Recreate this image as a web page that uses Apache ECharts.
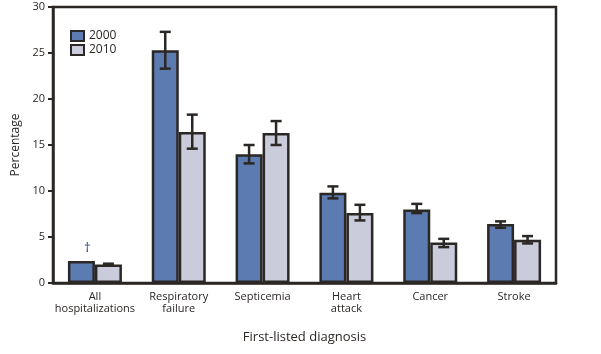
<!DOCTYPE html>
<html>
<head>
<meta charset="utf-8">
<script src="https://cdn.jsdelivr.net/npm/echarts@6/dist/echarts.min.js"></script>
<style>
  html, body { margin: 0; padding: 0; background: #fff; }
  #chart { width: 601px; height: 354px; }
</style>
</head>
<body>
<div id="chart"></div>
<script>
  // first-listed diagnosis, percentage of hospitalizations
  const categories = ['All\nhospitalizations', 'Respiratory\nfailure', 'Septicemia', 'Heart\nattack', 'Cancer', 'Stroke']
  const years = ['2000', '2010']
  const values2000 = [2.4, 25.3, 14.0, 9.8, 8.0, 6.4]
  const values2010 = [2.0, 16.4, 16.3, 7.6, 4.4, 4.7]
  // confidence intervals [low, high], null = none shown
  const ci2000 = [null, [23.3, 27.3], [13.0, 15.0], [9.2, 10.5], [7.6, 8.6], [6.0, 6.7]]
  const ci2010 = [[1.9, 2.1], [14.6, 18.3], [15.0, 17.6], [6.8, 8.5], [3.9, 4.8], [4.3, 5.1]]
  const yTicks = [0, 5, 10, 15, 20, 25, 30]

  const ink = '#2b2725'
  const font = '"Open Sans", "Noto Sans", sans-serif'
  const barW = 27

  const chart = echarts.init(document.getElementById('chart'))

  // error bar: shift = -1 for left bar, +1 for right bar
  function errorBar(shift) {
    return function(params, api) {
      const i = api.value(0)
      const lo = api.coord([i, api.value(1)])
      const hi = api.coord([i, api.value(2)])
      const x = lo[0] + shift * barW / 2
      const cap = 5.5
      const st = { stroke: ink, lineWidth: 2.5 }
      return {
        type: 'group',
        children: [
          { type: 'line', shape: { x1: x, y1: lo[1], x2: x, y2: hi[1] }, style: st },
          { type: 'line', shape: { x1: x - cap, y1: lo[1], x2: x + cap, y2: lo[1] }, style: st },
          { type: 'line', shape: { x1: x - cap, y1: hi[1], x2: x + cap, y2: hi[1] }, style: st }
        ]
      }
    }
  }
  function ciData(list) {
    return list.map((c, i) => c ? [i, c[0], c[1]] : null).filter(d => d)
  }

  chart.setOption({
    animation: false,
    textStyle: { fontFamily: font },
    grid: {
      left: 53, right: 45, top: 7, bottom: 71,
      show: true, borderColor: ink, borderWidth: 2.5
    },
    legend: {
      data: years,
      orient: 'vertical',
      left: 65, top: 25,
      itemWidth: 13, itemHeight: 10, itemGap: 2,
      icon: 'rect',
      textStyle: { fontSize: 12, color: ink, fontFamily: font }
    },
    xAxis: {
      type: 'category',
      data: categories,
      name: 'First-listed diagnosis',
      nameLocation: 'middle',
      nameGap: 48,
      nameTextStyle: { fontSize: 13, color: ink },
      axisLine: { lineStyle: { color: ink, width: 2.5 } },
      axisTick: { alignWithLabel: true, length: 5, lineStyle: { color: ink, width: 2 } },
      axisLabel: { fontSize: 11, color: ink, lineHeight: 12, margin: 8, interval: 0 }
    },
    yAxis: {
      type: 'value',
      min: 0, max: 30, interval: 5,
      name: 'Percentage',
      nameLocation: 'middle',
      nameGap: 31,
      nameTextStyle: { fontSize: 12, color: ink },
      splitLine: { show: false },
      axisLine: { show: true, lineStyle: { color: ink, width: 2.5 } },
      axisTick: { show: true, length: 5, lineStyle: { color: ink, width: 2 } },
      axisLabel: { fontSize: 11, color: ink, margin: 8,
        formatter: v => yTicks.includes(v) ? String(v) : '' }
    },
    series: [
      {
        name: years[0], type: 'bar', barWidth: barW, barGap: '0%',
        itemStyle: { color: '#5b7bb1', borderColor: ink, borderWidth: 2.5 },
        data: values2000.map((v, i) => i === 0 ? {
          value: v,
          label: { show: true, position: 'top', formatter: '\u2020', color: '#1f3a6e', fontSize: 13, distance: 6, offset: [6, 0] }
        } : v)
      },
      {
        name: years[1], type: 'bar', barWidth: barW, barGap: '0%',
        itemStyle: { color: '#cacbdb', borderColor: ink, borderWidth: 2.5 },
        data: values2010
      },
      {
        type: 'custom', renderItem: errorBar(-1), z: 5,
        encode: { x: 0, y: [1, 2] },
        data: ciData(ci2000)
      },
      {
        type: 'custom', renderItem: errorBar(1), z: 5,
        encode: { x: 0, y: [1, 2] },
        data: ciData(ci2010)
      }
    ]
  })
</script>
</body>
</html>
